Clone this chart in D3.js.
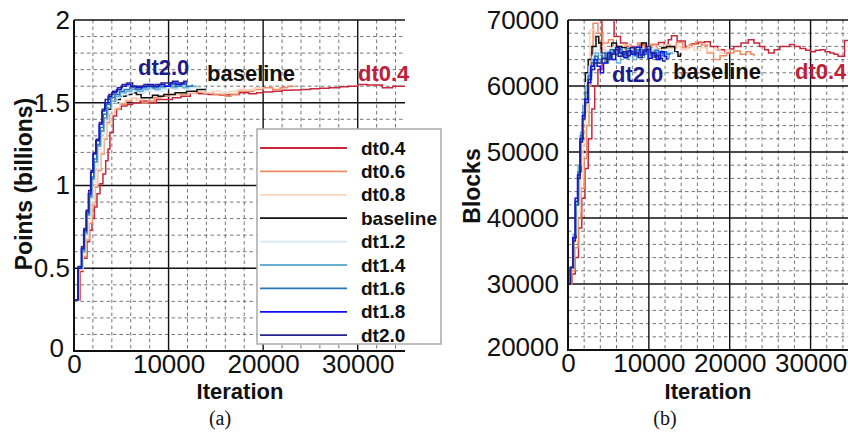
<!DOCTYPE html>
<html>
<head>
<meta charset="utf-8">
<script src="https://cdn.jsdelivr.net/npm/d3@7"></script>
<style>
  html, body { margin: 0; padding: 0; background: #fff; }
  svg { display: block; font-family: "Liberation Sans", Arial, Helvetica, sans-serif; }
</style>
</head>
<body>
<svg id="chart" width="848" height="432"></svg>
<script>
// ---- series ----
const seriesNames = ["dt0.4", "dt0.6", "dt0.8", "baseline", "dt1.2", "dt1.4", "dt1.6", "dt1.8", "dt2.0"];
const seriesColors = ["#c8283c", "#f08a60", "#fcd5c0", "#111111", "#d4e8f2", "#6aaed6", "#2a77b8", "#1010f0", "#24248c"];

// ---- (a) points, billions: [iteration, value] ----
const pointsDt04 = [[0,0.31],[650,0.48],[950,0.56],[1370,0.66],[1650,0.73],[1900,0.8],[2150,0.87],[2430,0.95],[2750,1.01],[3060,1.07],[3350,1.15],[3600,1.22],[3800,1.32],[4150,1.42],[4500,1.46],[5000,1.48],[5600,1.49],[6200,1.5],[7000,1.51],[7800,1.5],[8700,1.52],[9600,1.52],[10400,1.53],[11300,1.54],[12300,1.56],[13200,1.555],[14200,1.55],[15400,1.547],[16400,1.55],[17500,1.56],[18500,1.555],[19300,1.56],[20000,1.565],[21000,1.57],[22000,1.575],[23000,1.577],[24000,1.58],[25000,1.585],[26000,1.587],[27000,1.59],[28100,1.597],[29000,1.6],[30000,1.61],[31000,1.607],[32000,1.607],[32600,1.59],[33200,1.59],[33700,1.6],[34400,1.6],[35000,1.6]];
const pointsDt06 = [[0,0.31],[600,0.49],[980,0.57],[1300,0.67],[1600,0.77],[1900,0.88],[2200,0.99],[2500,1.09],[2850,1.19],[3200,1.28],[3500,1.38],[3800,1.43],[4300,1.46],[4850,1.49],[5500,1.51],[6100,1.53],[6600,1.52],[7200,1.5],[7800,1.51],[8500,1.53],[9200,1.54],[10100,1.55],[11000,1.55],[12000,1.56],[13000,1.565],[13900,1.56],[14700,1.55],[15400,1.55],[16000,1.54],[16600,1.55],[17400,1.57],[18200,1.57],[19000,1.58],[20000,1.59],[21000,1.58],[21800,1.59],[22600,1.6],[23300,1.6]];
const pointsDt08 = [[0,0.31],[560,0.49],[950,0.58],[1250,0.68],[1550,0.78],[1850,0.89],[2150,1.0],[2450,1.1],[2800,1.2],[3150,1.29],[3500,1.37],[3900,1.43],[4350,1.47],[4850,1.5],[5400,1.52],[6000,1.53],[6700,1.52],[7400,1.53],[8100,1.54],[8800,1.54],[9500,1.55],[10300,1.55],[11100,1.56],[11900,1.56],[12800,1.57],[13700,1.56],[14600,1.57],[15500,1.56],[16400,1.57],[17300,1.58],[18200,1.58],[19100,1.59],[20000,1.59]];
const pointsBaseline = [[0,0.31],[470,0.5],[850,0.6],[1120,0.71],[1380,0.82],[1640,0.93],[1880,1.04],[2140,1.14],[2450,1.24],[2800,1.33],[3150,1.41],[3500,1.46],[3900,1.5],[4350,1.52],[4900,1.54],[5500,1.55],[6100,1.56],[6600,1.55],[7100,1.53],[7700,1.53],[8300,1.545],[8900,1.54],[9500,1.55],[10100,1.55],[10700,1.56],[11300,1.56],[11900,1.57],[12500,1.57],[13000,1.58],[13500,1.58],[14000,1.58]];
const pointsDt12 = [[0,0.31],[500,0.5],[900,0.6],[1180,0.7],[1450,0.81],[1720,0.92],[1960,1.02],[2220,1.12],[2550,1.22],[2900,1.31],[3250,1.39],[3650,1.45],[4050,1.5],[4550,1.53],[5100,1.55],[5700,1.56],[6300,1.57],[6900,1.56],[7500,1.57],[8100,1.58],[8700,1.57],[9300,1.58],[9900,1.59],[10500,1.58],[11100,1.59],[11700,1.58],[12300,1.59],[12900,1.59],[13400,1.59]];
const pointsDt14 = [[0,0.31],[480,0.5],[860,0.6],[1140,0.71],[1400,0.82],[1660,0.93],[1900,1.04],[2160,1.14],[2480,1.24],[2820,1.33],[3180,1.41],[3550,1.47],[3950,1.51],[4400,1.54],[4900,1.56],[5500,1.57],[6100,1.58],[6700,1.57],[7300,1.58],[7900,1.59],[8500,1.58],[9100,1.59],[9700,1.6],[10300,1.59],[10900,1.6],[11500,1.59],[12100,1.6],[12700,1.6],[13000,1.6]];
const pointsDt16 = [[0,0.31],[460,0.5],[830,0.61],[1100,0.72],[1360,0.83],[1600,0.94],[1850,1.05],[2100,1.16],[2400,1.25],[2750,1.35],[3100,1.43],[3450,1.49],[3850,1.53],[4300,1.55],[4800,1.57],[5300,1.58],[5900,1.59],[6500,1.58],[7100,1.59],[7700,1.6],[8300,1.59],[8900,1.6],[9500,1.6],[10100,1.61],[10700,1.6],[11300,1.61],[11900,1.6],[12500,1.61]];
const pointsDt18 = [[0,0.31],[420,0.5],[780,0.62],[1020,0.73],[1280,0.84],[1520,0.95],[1760,1.08],[2000,1.19],[2300,1.27],[2650,1.37],[2950,1.45],[3250,1.5],[3600,1.54],[4000,1.56],[4500,1.58],[5000,1.6],[5500,1.61],[6000,1.6],[6600,1.59],[7200,1.6],[7800,1.61],[8400,1.6],[9000,1.61],[9600,1.6],[10200,1.62],[10800,1.61],[11400,1.62],[12000,1.62]];
const pointsDt20 = [[0,0.31],[430,0.51],[800,0.63],[1050,0.74],[1300,0.85],[1550,0.97],[1800,1.09],[2050,1.2],[2350,1.28],[2700,1.38],[3000,1.46],[3300,1.52],[3700,1.55],[4100,1.57],[4600,1.59],[5100,1.61],[5600,1.62],[6200,1.6],[6800,1.6],[7400,1.61],[8000,1.6],[8600,1.61],[9200,1.62],[9800,1.62],[10400,1.63],[11000,1.62],[11600,1.63],[12000,1.63]];

// ---- (b) blocks: [iteration, value] ----
const blocksDt04 = [[0,30000],[500,31500],[900,34000],[1300,38500],[1700,43000],[2100,47500],[2500,52000],[2950,56500],[3300,60000],[3700,62500],[4200,71000],[5700,67500],[6500,66500],[7300,66000],[8100,65600],[8800,66200],[9600,65800],[10400,66300],[11200,66600],[11900,66200],[12400,67000],[12800,67600],[13500,66800],[14500,66000],[15300,66400],[16100,66600],[16900,66700],[17600,66000],[18500,65500],[19400,65000],[20000,65600],[20500,66000],[21400,66500],[22300,67000],[23000,66500],[23700,66000],[24300,65500],[24800,65000],[25500,65500],[26200,66000],[27400,66300],[28000,66000],[28700,65700],[29400,65400],[30000,65200],[30600,65400],[31200,65500],[31800,65200],[32400,65000],[32900,64800],[33400,64500],[34200,66900],[35000,67000]];
const blocksDt06 = [[0,30000],[450,32000],[850,35500],[1250,40000],[1600,44500],[2000,49000],[2300,54000],[2600,60000],[2850,65000],[3100,69500],[3700,68000],[4300,66500],[5000,67000],[5600,66000],[6300,65500],[7000,66300],[7800,65800],[8600,66500],[9400,65800],[10200,66300],[11000,65600],[11800,66200],[12600,65800],[13400,66600],[14200,65800],[15000,66300],[15800,66700],[16500,66200],[17200,65000],[18000,64000],[18800,64600],[19600,65000],[20500,65300],[21300,64800],[22000,65200],[22600,64800],[23000,64500]];
const blocksDt08 = [[0,30000],[430,32500],[800,36500],[1150,41000],[1500,46000],[1850,51000],[2150,56000],[2450,62000],[2700,68500],[3300,67000],[3900,66000],[4600,65200],[5300,66000],[6000,65500],[6800,66200],[7600,65600],[8400,66000],[9200,65400],[10000,66000],[10800,65500],[11600,66200],[12400,65700],[13200,66000],[14000,65500],[14800,66000],[15600,65400],[16400,65800],[17200,65200],[18000,65600],[18800,65000],[19500,65400],[20000,65200]];
const blocksBaseline = [[0,30000],[380,32500],[700,37000],[1000,42000],[1300,47000],[1600,52000],[1850,57000],[2150,62000],[2500,64000],[2960,66000],[3460,67500],[3800,66500],[4100,65000],[4600,63700],[5000,65000],[5400,66500],[6000,66000],[6650,65800],[7300,65300],[7900,65000],[8500,65800],[9100,66500],[9700,65500],[10400,64400],[11000,65000],[11600,65800],[12200,66000],[12800,66000],[13200,65200],[13600,64500],[13900,65000]];
const blocksDt12 = [[0,30000],[360,32500],[680,37500],[980,42500],[1280,48000],[1580,53000],[1880,57500],[2200,60500],[2600,63000],[3000,64500],[3400,65500],[3900,64800],[4400,65500],[4900,64700],[5400,65800],[5900,65000],[6400,65600],[6900,64900],[7400,65800],[7900,65100],[8400,65700],[8900,65000],[9400,65600],[9900,64900],[10400,65700],[10900,65000],[11400,65500],[11900,64900],[12400,65400],[12900,65000],[13300,65200]];
const blocksDt14 = [[0,30000],[340,32500],[660,37500],[960,42500],[1260,48000],[1560,53000],[1860,57000],[2180,60000],[2550,62000],[2950,64000],[3350,65000],[3750,63500],[4150,64500],[4600,63500],[5000,65200],[5500,64000],[6000,63500],[6500,65000],[7000,64200],[7500,65300],[8000,64000],[8500,65500],[9000,64300],[9500,65600],[10000,64400],[10500,65200],[11000,64000],[11500,65000],[12000,64200],[12500,65000],[12900,64800]];
const blocksDt16 = [[0,30000],[320,32500],[640,37000],[940,42000],[1240,47000],[1540,52500],[1840,56000],[2150,59000],[2500,61500],[2900,63500],[3300,64500],[3700,64000],[4200,65000],[4700,64300],[5200,65500],[5700,64800],[6200,65600],[6700,64900],[7200,65700],[7700,65200],[8200,64600],[8700,65500],[9200,64800],[9700,65600],[10200,64700],[10700,65400],[11200,64600],[11700,65200],[12200,64800],[12600,65000]];
const blocksDt18 = [[0,30000],[280,32500],[580,37000],[880,43000],[1180,46500],[1480,52000],[1780,55500],[2080,58000],[2450,60500],[2800,63000],[3200,64000],[3600,63000],[4000,62000],[4400,63500],[4900,65000],[5400,64000],[5900,65800],[6400,65000],[6900,64300],[7400,65300],[7900,64800],[8400,65900],[8900,64700],[9400,65500],[9900,64200],[10400,65000],[10900,64000],[11400,65200],[11900,64500],[12200,64000]];
const blocksDt20 = [[0,30000],[300,32500],[600,36500],[900,42500],[1200,46000],[1500,51500],[1800,55000],[2100,57500],[2500,61000],[2900,62500],[3300,63500],[3700,63500],[4200,64200],[4700,64000],[5200,64800],[5700,65500],[6200,64500],[6700,65200],[7200,64600],[7700,65800],[8200,65000],[8700,64300],[9200,65200],[9700,66000],[10200,65000],[10700,64600],[11200,64200],[11700,63800],[12000,63700]];

// ---- axes ----
const iterationTicks = [0, 10000, 20000, 30000];
const pointsTicks = [0, 0.5, 1, 1.5, 2];
const blocksTicks = [20000, 30000, 40000, 50000, 60000, 70000];

const pointsSeries = [pointsDt04, pointsDt06, pointsDt08, pointsBaseline, pointsDt12, pointsDt14, pointsDt16, pointsDt18, pointsDt20];
const blocksSeries = [blocksDt04, blocksDt06, blocksDt08, blocksBaseline, blocksDt12, blocksDt14, blocksDt16, blocksDt18, blocksDt20];

const svg = d3.select("#chart");

function drawPanel(opt) {
  const x = d3.scaleLinear().domain([0, 35000]).range([opt.left, opt.right]);
  const y = d3.scaleLinear().domain(opt.yDomain).range([opt.bottom, opt.top]);
  const g = svg.append("g");

  const clipId = "clip-" + opt.id;
  svg.append("defs").append("clipPath").attr("id", clipId)
    .append("rect")
    .attr("x", opt.left).attr("y", opt.top)
    .attr("width", opt.right - opt.left).attr("height", opt.bottom - opt.top);

  // minor dashed grid
  const xMinor = d3.range(2000, 35000, 2000).filter(v => v % 10000 !== 0);
  const yMinor = d3.range(opt.yDomain[0], opt.yDomain[1] + 1e-9, opt.yMinorStep)
    .filter(v => Math.abs(v / opt.yMajorStep - Math.round(v / opt.yMajorStep)) > 1e-6);
  g.selectAll(".xminor").data(xMinor).join("line")
    .attr("x1", d => x(d)).attr("x2", d => x(d))
    .attr("y1", opt.top).attr("y2", opt.bottom)
    .attr("stroke", "#666").attr("stroke-width", 0.9).attr("stroke-dasharray", "3.5,3");
  g.selectAll(".yminor").data(yMinor).join("line")
    .attr("x1", opt.left).attr("x2", opt.right)
    .attr("y1", d => y(d)).attr("y2", d => y(d))
    .attr("stroke", "#666").attr("stroke-width", 0.9).attr("stroke-dasharray", "3.5,3");

  // major solid grid
  g.selectAll(".xmajor").data(iterationTicks.filter(v => v > 0)).join("line")
    .attr("x1", d => x(d)).attr("x2", d => x(d))
    .attr("y1", opt.top).attr("y2", opt.bottom)
    .attr("stroke", "#111").attr("stroke-width", 1.4);
  g.selectAll(".ymajor").data(opt.yTicks.slice(1)).join("line")
    .attr("x1", opt.left).attr("x2", opt.right)
    .attr("y1", d => y(d)).attr("y2", d => y(d))
    .attr("stroke", "#111").attr("stroke-width", 1.4);

  // series lines
  const line = d3.line().x(d => x(d[0])).y(d => y(d[1])).curve(d3.curveStepAfter);
  g.append("g").attr("clip-path", `url(#${clipId})`)
    .selectAll("path").data(opt.series).join("path")
    .attr("d", line)
    .attr("fill", "none")
    .attr("stroke", (d, i) => seriesColors[i])
    .attr("stroke-width", 1.5);

  // axis frame lines
  g.append("line").attr("x1", opt.left).attr("x2", opt.left).attr("y1", opt.top).attr("y2", opt.bottom + 1)
    .attr("stroke", "#111").attr("stroke-width", 2);
  g.append("line").attr("x1", opt.left - 1).attr("x2", opt.right).attr("y1", opt.bottom).attr("y2", opt.bottom)
    .attr("stroke", "#111").attr("stroke-width", 2);

  // tick labels
  const xAxis = g.append("g").attr("transform", `translate(0,${opt.bottom})`)
    .call(d3.axisBottom(x).tickValues(iterationTicks).tickSize(0).tickPadding(4).tickFormat(d3.format("d")));
  const yAxis = g.append("g").attr("transform", `translate(${opt.left},0)`)
    .call(d3.axisLeft(y).tickValues(opt.yTicks).tickSize(0).tickPadding(opt.yPad).tickFormat(opt.yFormat));
  [xAxis, yAxis].forEach(a => {
    a.select(".domain").remove();
    a.selectAll("text").attr("font-size", 26).attr("fill", "#111")
      .attr("font-family", "'Liberation Sans', Arial, sans-serif");
  });
  // the lowest y label sits just left of the x-axis origin label
  yAxis.selectAll(".tick").filter(d => d === opt.yDomain[0]).select("text")
    .attr("dx", -opt.originShift).attr("dy", "0.2em");

  // axis titles
  g.append("text").attr("x", opt.xTitleX).attr("y", 399)
    .attr("text-anchor", "middle").attr("font-size", 22).attr("font-weight", "bold").attr("fill", "#111")
    .text("Iteration");
  g.append("text")
    .attr("transform", `translate(${opt.yTitleX},${opt.yTitleY}) rotate(-90)`)
    .attr("text-anchor", "middle").attr("font-size", 23).attr("font-weight", "bold").attr("fill", "#111")
    .text(opt.yTitle);

  // in-plot annotations
  opt.notes.forEach(n => {
    g.append("text").attr("x", n.x).attr("y", n.y)
      .attr("font-size", 22).attr("font-weight", "bold").attr("fill", n.color)
      .text(n.text);
  });

  // caption
  g.append("text").attr("x", opt.captionX).attr("y", 425)
    .attr("text-anchor", "middle").attr("font-size", 20)
    .attr("font-family", "'Liberation Serif', 'Times New Roman', serif").attr("fill", "#111")
    .text(opt.caption);

  return { x, y };
}

drawPanel({
  id: "points", left: 74, right: 405, top: 20, bottom: 351,
  yDomain: [0, 2], yTicks: pointsTicks, yMinorStep: 0.1, yMajorStep: 0.5,
  yFormat: d => String(d), yPad: 4, originShift: 6,
  series: pointsSeries,
  yTitle: "Points (billions)", yTitleX: 32, yTitleY: 184,
  xTitleX: 240, captionX: 220, caption: "(a)",
  notes: [
    { text: "dt2.0", x: 138, y: 75, color: "#1c1c8a" },
    { text: "baseline", x: 207, y: 81, color: "#111" },
    { text: "dt0.4", x: 358, y: 81, color: "#c0203a" }
  ]
});

drawPanel({
  id: "blocks", left: 568, right: 851, top: 20, bottom: 350,
  yDomain: [20000, 70000], yTicks: blocksTicks, yMinorStep: 2000, yMajorStep: 10000,
  yFormat: d3.format("d"), yPad: 9, originShift: 0,
  series: blocksSeries,
  yTitle: "Blocks", yTitleX: 480, yTitleY: 186,
  xTitleX: 708, captionX: 665, caption: "(b)",
  notes: [
    { text: "dt2.0", x: 612, y: 82, color: "#1c1c8a" },
    { text: "baseline", x: 673, y: 79, color: "#111" },
    { text: "dt0.4", x: 795, y: 79, color: "#c0203a" }
  ]
});

// legend for panel (a)
const legend = svg.append("g");
legend.append("rect").attr("x", 257).attr("y", 129).attr("width", 184).attr("height", 215)
  .attr("fill", "#fff").attr("stroke", "#aaa").attr("stroke-width", 1.5);
const rows = legend.selectAll("g.row").data(seriesNames).join("g")
  .attr("transform", (d, i) => `translate(0,${148 + i * 23.4})`);
rows.append("line").attr("x1", 260).attr("x2", 347).attr("y1", 0).attr("y2", 0)
  .attr("stroke", (d, i) => seriesColors[i]).attr("stroke-width", 1.8);
rows.append("text").attr("x", 361).attr("y", 0).attr("dy", "0.35em")
  .attr("font-size", 19).attr("font-weight", "bold").attr("fill", "#111")
  .text(d => d);
</script>
</body>
</html>
